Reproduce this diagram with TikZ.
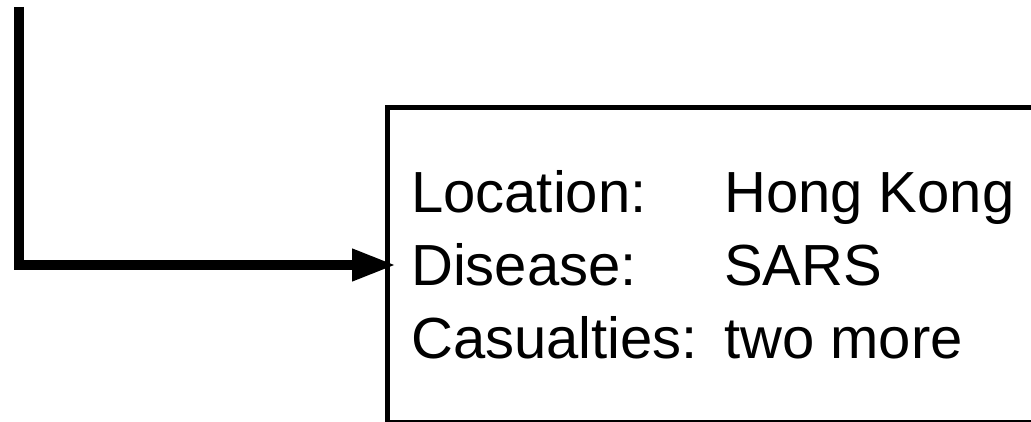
\documentclass[tikz,border=0pt]{standalone}
\usepackage{fontspec}
\setmainfont{Liberation Sans}
\usetikzlibrary{arrows.meta}
\begin{document}
\begin{tikzpicture}[x=1pt,y=-1pt,
  recordbox/.style={draw, line width=5pt, rectangle, inner sep=0pt, outer sep=0pt,
    minimum width=700pt, minimum height=314pt, anchor=north west},
  feed/.style={line width=10pt, -{Triangle[length=44pt,width=30pt]}},
  label/.style={anchor=base west, inner sep=0pt, font=\fontsize{58}{70}\selectfont}]
  \useasboundingbox (0,0) rectangle (1031,422);
  \clip (0,0) rectangle (1031,422);
  % record box, partly off the right and bottom edges
  \node[recordbox] (box) at (387,108) {};
  % field labels and values
  \node[label] (k1) at (411,213) {Location:};
  \node[label] (k2) at (411,285) {Disease:};
  \node[label] (k3) at (411,358) {Casualties:};
  \node[label] (v1) at (724,213) {Hong Kong};
  \node[label] (v2) at (724,285) {SARS};
  \node[label] (v3) at (724,358) {two more};
  % incoming connector
  \coordinate (src) at (19,7);
  \draw[feed, shorten >=-9pt] (src) |- (box.west);
\end{tikzpicture}
\end{document}
